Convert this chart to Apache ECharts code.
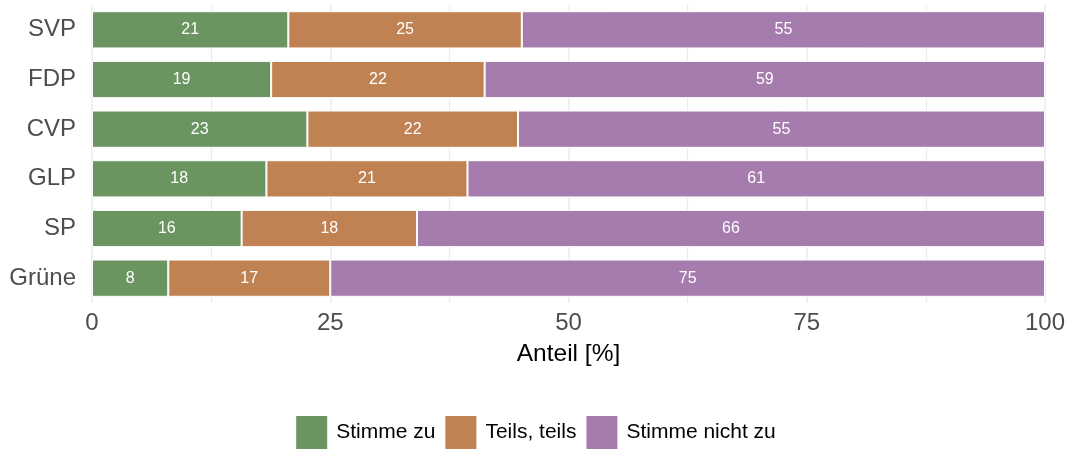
<!DOCTYPE html>
<html><head><meta charset="utf-8">
<script src="https://cdn.jsdelivr.net/npm/echarts@6/dist/echarts.min.js"></script>
<style>html,body{margin:0;padding:0;background:#fff}#c{width:1070px;height:450px}</style>
</head><body><div id="c"></div>
<script>
var categories = ['SVP','FDP','CVP','GLP','SP','Grüne'];
var seriesNames = ['Stimme zu','Teils, teils','Stimme nicht zu'];
var stimmeZu = [20.6, 18.8, 22.6, 18.3, 15.7, 8.0];
var teilsTeils = [24.5, 22.4, 22.1, 21.1, 18.4, 17.0];
var stimmeNichtZu = [54.9, 58.8, 55.3, 60.6, 65.9, 75.0];
var xTicks = [0, 25, 50, 75, 100];
var colors = ['#6A9560','#C08253','#A67BAD'];

var values = [stimmeZu, teilsTeils, stimmeNichtZu];
var chart = echarts.init(document.getElementById('c'), null, {renderer:'canvas'});
chart.setOption({
  animation:false,
  textStyle:{fontFamily:'Liberation Sans, Arial, sans-serif'},
  grid:{left:92, right:25, top:5, height:298, containLabel:false},
  xAxis:{type:'value', min:xTicks[0], max:xTicks[xTicks.length-1], interval:25,
    axisLine:{show:false}, axisTick:{show:false},
    axisLabel:{color:'#4d4d4d', fontSize:24, margin:8, formatter:function(v){return xTicks.indexOf(v)>=0?String(v):'';}},
    splitLine:{show:true, lineStyle:{color:'#ebebeb', width:1.5}},
    minorTick:{show:false, splitNumber:2},
    minorSplitLine:{show:true, lineStyle:{color:'#ebebeb', width:1.2}},
    name:'Anteil [%]', nameLocation:'middle', nameGap:39,
    nameTextStyle:{color:'#000', fontSize:24.5}},
  yAxis:{type:'category', data:categories, inverse:true,
    axisLine:{show:false}, axisTick:{show:false},
    axisLabel:{color:'#4d4d4d', fontSize:24, margin:16},
    splitLine:{show:false}},
  legend:{top:409, left:'center', itemWidth:33, itemHeight:35, itemGap:8,
    icon:'rect', textStyle:{color:'#000', fontSize:21, padding:[0,0,0,3]},
    data:seriesNames},
  series: seriesNames.map(function(n,i){
    return {name:n, type:'bar', stack:'a', data:values[i], barCategoryGap:'25%',
      itemStyle:{color:colors[i], borderColor:'#fff', borderWidth:1},
      label:{show:true, position:'inside', color:'#fff', fontSize:16,
        formatter:function(p){return Math.round(p.value);}}};
  })
});
</script></body></html>
